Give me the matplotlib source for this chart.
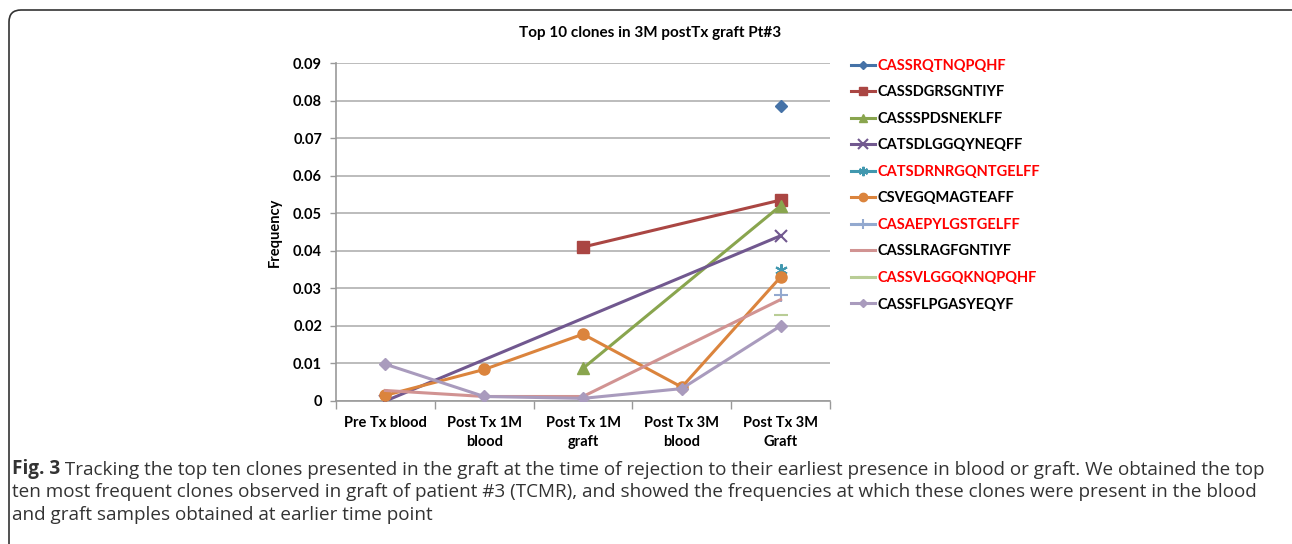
import numpy as np
import matplotlib
matplotlib.use("Agg")
import matplotlib.pyplot as plt
from matplotlib.patches import FancyBboxPatch

# time points of the samples
timepoints = ["Pre Tx blood", "Post Tx 1M\nblood", "Post Tx 1M\ngraft",
              "Post Tx 3M\nblood", "Post Tx 3M\nGraft"]

# clone frequencies (None = clone not observed)
cassrqtnqpqhf = [None, None, None, None, 0.0785]
cassdgrsgntiyf = [None, None, 0.041, None, 0.0535]
casssspdsneklff = [None, None, 0.0087, None, 0.052]
catsdlggqyneqff = [0.0, None, None, None, 0.044]
catsdrnrgqntgelff = [None, None, None, None, 0.035]
csvegqmagteaff = [0.0015, 0.0084, 0.0178, 0.0037, 0.033]
casaepylgstgelff = [None, None, None, None, 0.0281]
casslragfgntiyf = [0.0028, 0.0012, 0.0012, None, 0.027]
cassvlggqknqpqhf = [None, None, None, None, 0.0228]
cassflpgasyeqyf = [0.0098, 0.0012, 0.0007, 0.0033, 0.020]

clones = ["CASSRQTNQPQHF", "CASSDGRSGNTIYF", "CASSSPDSNEKLFF", "CATSDLGGQYNEQFF",
          "CATSDRNRGQNTGELFF", "CSVEGQMAGTEAFF", "CASAEPYLGSTGELFF",
          "CASSLRAGFGNTIYF", "CASSVLGGQKNQPQHF", "CASSFLPGASYEQYF"]
values = [cassrqtnqpqhf, cassdgrsgntiyf, casssspdsneklff, catsdlggqyneqff,
          catsdrnrgqntgelff, csvegqmagteaff, casaepylgstgelff,
          casslragfgntiyf, cassvlggqknqpqhf, cassflpgasyeqyf]
# clones highlighted in red in the legend
highlighted = ["CASSRQTNQPQHF", "CATSDRNRGQNTGELFF", "CASAEPYLGSTGELFF", "CASSVLGGQKNQPQHF"]

colors = ["#4572A7", "#AA4643", "#89A54E", "#71588F", "#4198AF",
          "#DB843D", "#93A9CF", "#D19392", "#B9CD96", "#A99BBD"]
markers = ["D", "s", "^", "x", (6, 2, 0), "o", "+", None, "_", "D"]
msizes = [6, 8, 8, 9, 9, 8, 10, 0, 10, 6]

fig = plt.figure(figsize=(12.92, 5.44), dpi=100)

# rounded frame around the figure panel, in pixels (bottom and right run off the page)
frame = FancyBboxPatch((9, -30), 1300, 564,
                       boxstyle="round,pad=0,rounding_size=12",
                       transform=None, fill=False,
                       edgecolor="#333333", linewidth=1.2)
fig.patches.append(frame)

ax = fig.add_axes([336 / 1292, 1 - 401 / 544, 494 / 1292, 338 / 544])

x = np.arange(len(timepoints))
for name, vals, c, m, ms in zip(clones, values, colors, markers, msizes):
    pts = [(xi, v) for xi, v in zip(x, vals) if v is not None]
    xs = [p[0] for p in pts]
    ys = [p[1] for p in pts]
    ax.plot(xs, ys, color=c, linewidth=2.2, marker=m, markersize=ms,
            markeredgewidth=1.5 if m in ("x", "+", "_", (6, 2, 0)) else 1.0,
            label=name, zorder=3)

ax.set_xlim(-0.5, len(timepoints) - 0.5)
ax.set_ylim(0, 0.09)
ax.set_yticks(np.arange(0, 0.0901, 0.01))
ax.set_yticklabels(["0"] + ["%.2f" % t for t in np.arange(0.01, 0.0901, 0.01)])
ax.set_xticks(x)
ax.set_xticklabels(timepoints, linespacing=1.45)
ax.set_xticks(np.arange(-0.5, len(timepoints)), minor=True)
ax.tick_params(axis="x", which="major", length=0, pad=11)
ax.tick_params(axis="x", which="minor", length=6, color="#999999", width=1)
ax.tick_params(axis="y", length=4, color="#999999", width=1, pad=6)
for lab in ax.get_xticklabels() + ax.get_yticklabels():
    lab.set_fontfamily("Lato")
    lab.set_fontweight("bold")
    lab.set_fontsize(10.5)

ax.grid(axis="y", color="#b0b0b0", linewidth=1.2)
ax.set_axisbelow(True)
for s in ("top", "right"):
    ax.spines[s].set_visible(False)
for s in ("left", "bottom"):
    ax.spines[s].set_color("#999999")
    ax.spines[s].set_linewidth(1.2)

ax.set_ylabel("Frequency", fontfamily="Lato", fontweight="bold", fontsize=10.5, labelpad=8)
fig.text(650 / 1292, 1 - 33 / 544, "Top 10 clones in 3M postTx graft Pt#3",
         ha="center", va="center", fontfamily="Lato", fontweight="bold", fontsize=11)

leg = ax.legend(loc="upper left", bbox_to_anchor=(1.03, 1.03), frameon=False,
                prop={"family": "Lato", "weight": "bold", "size": 10.5},
                handlelength=1.65, handletextpad=0.2, labelspacing=0.86,
                markerscale=0.75, borderaxespad=0)
for t in leg.get_texts():
    t.set_color("#FF0000" if t.get_text() in highlighted else "black")

# figure caption
cap_font = "Open Sans"
t_bold = fig.text(12 / 1292, 1 - 474 / 544, "Fig. 3", fontfamily=cap_font,
                  fontweight="bold", fontsize=13.6, color="#333333", va="baseline")
ax.annotate(" Tracking the top ten clones presented in the graft at the time of rejection to "
            "their earliest presence in blood or graft. We obtained the top",
            xy=(1, 0), xycoords=t_bold, va="bottom", fontfamily=cap_font,
            fontsize=13.6, color="#333333", annotation_clip=False)
fig.text(12 / 1292, 1 - 497 / 544,
         "ten most frequent clones observed in graft of patient #3 (TCMR), and showed the "
         "frequencies at which these clones were present in the blood",
         fontfamily=cap_font, fontsize=13.6, color="#333333", va="baseline")
fig.text(12 / 1292, 1 - 520 / 544, "and graft samples obtained at earlier time point",
         fontfamily=cap_font, fontsize=13.6, color="#333333", va="baseline")

fig.savefig("out.png", dpi=100)
